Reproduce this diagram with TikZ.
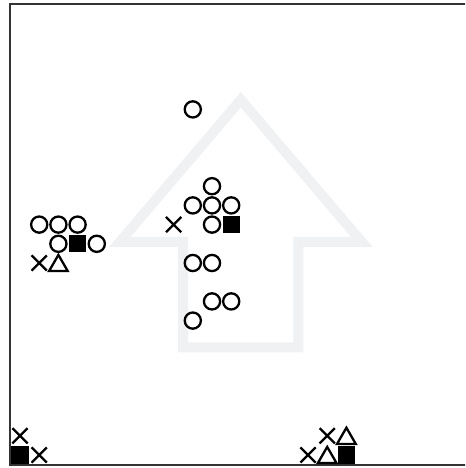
\documentclass[tikz,border=0pt]{standalone}
\usetikzlibrary{shapes.geometric, shapes.misc}

\definecolor{arrowgray}{HTML}{F0F1F3}

\begin{document}
\begin{tikzpicture}[x=0.5cm, y=0.5cm,
    mk/.style={inner sep=0pt, outer sep=0pt, line width=1.7pt},
    circ/.style={mk, circle, draw, minimum size=12pt},
    sq/.style={mk, rectangle, fill=black, minimum size=12.8pt},
    cross/.style={mk, cross out, draw, minimum size=11.3pt},
    tri/.style={mk, regular polygon, regular polygon sides=3, draw, minimum size=16pt, yshift=-2pt}]
    \useasboundingbox (-1.0417,-0.677) rectangle (23.177,23.698);
    \clip (-1.0417,-0.677) rectangle (23.177,23.698);

    % background arrow
    \draw[arrowgray, line width=7.4pt, line join=miter]
        (11.5,18.5) -- (17.8,11.1) -- (14.5,11.1) -- (14.5,5.6)
        -- (8.5,5.6) -- (8.5,11.1) -- (5.2,11.1) -- cycle;

    % frame
    \draw[black!80, line width=1.6pt] (-0.5,-0.5) rectangle (23.5,23.5);

    % markers
    \foreach \x/\y [count=\i] in {9/18, 10/14, 9/13, 10/13, 11/13, 10/12,
        1/12, 2/12, 3/12, 2/11, 4/11, 9/10, 10/10, 10/8, 11/8, 9/7}
        \node[circ] (c\i) at (\x,\y) {};
    \foreach \x/\y [count=\i] in {11/12, 3/11, 0/0, 17/0}
        \node[sq] (s\i) at (\x,\y) {};
    \foreach \x/\y [count=\i] in {8/12, 1/10, 0/1, 1/0, 16/1, 15/0}
        \node[cross] (x\i) at (\x,\y) {};
    \foreach \x/\y [count=\i] in {2/10, 17/1, 16/0}
        \node[tri] (t\i) at (\x,\y) {};
\end{tikzpicture}
\end{document}
